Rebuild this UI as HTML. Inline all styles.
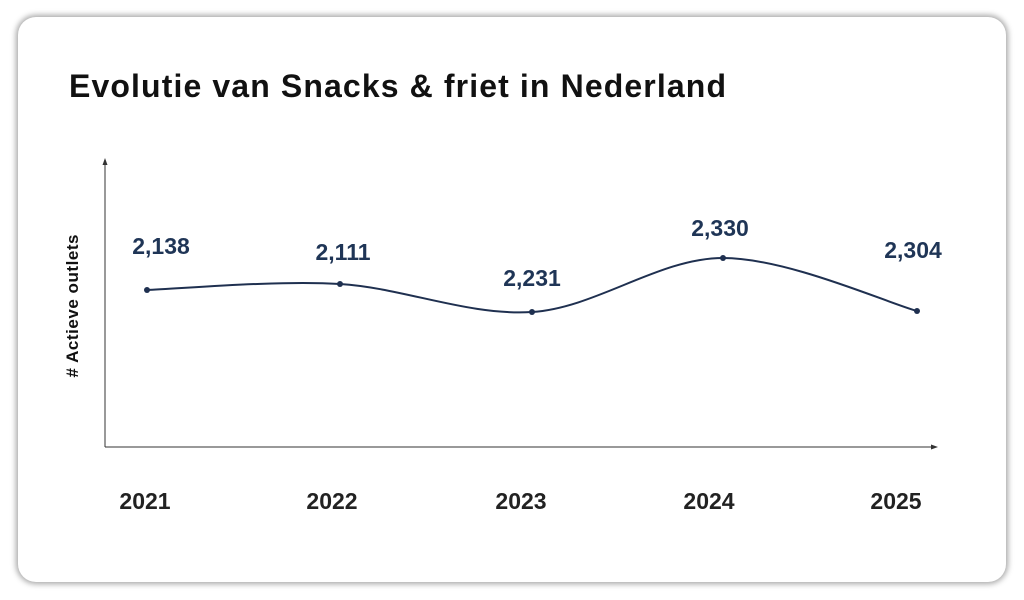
<!DOCTYPE html>
<html><head><style>
html,body{margin:0;padding:0;background:#fff;width:1024px;height:600px;overflow:hidden}
.card{position:absolute;left:18px;top:17px;width:988px;height:565px;background:#fff;border-radius:18px;box-shadow:0 0 6px 2px rgba(0,0,0,0.35)}
svg{position:absolute;left:0;top:0}
text{font-family:"Liberation Sans",sans-serif}
</style></head><body>
<div class="card"></div>
<svg width="1024" height="600" viewBox="0 0 1024 600">
<text x="69" y="97" font-size="32" font-weight="bold" fill="#111" textLength="657" lengthAdjust="spacing">Evolutie van Snacks &amp; friet in Nederland</text>
<line x1="105" y1="447" x2="105" y2="163" stroke="#333" stroke-width="1"/>
<polygon points="105,158 102.5,165 107.5,165" fill="#333"/>
<line x1="105" y1="447" x2="932" y2="447" stroke="#333" stroke-width="1"/>
<polygon points="938,447 931,444.5 931,449.5" fill="#333"/>
<text transform="translate(78,306) rotate(-90)" text-anchor="middle" font-size="17" font-weight="bold" fill="#111" textLength="143" lengthAdjust="spacing"># Actieve outlets</text>
<path d="M147,290 C179,289 276,280 340,284 C404,288 468,316 532,312 C596,308 659,258 723,258 C787,258 885,302 917,311" fill="none" stroke="#1f3050" stroke-width="2"/>
<g fill="#1f3050">
<circle cx="147" cy="290" r="3"/><circle cx="340" cy="284" r="3"/><circle cx="532" cy="312" r="3"/><circle cx="723" cy="258" r="3"/><circle cx="917" cy="311" r="3"/>
</g>
<g font-size="23" fill="#1f3556" text-anchor="middle" font-weight="bold" style="font-weight:600">
<text x="161" y="254">2,138</text>
<text x="343" y="260">2,111</text>
<text x="532" y="286">2,231</text>
<text x="720" y="236">2,330</text>
<text x="913" y="258">2,304</text>
</g>
<g font-size="23" font-weight="bold" fill="#222" text-anchor="middle">
<text x="145" y="509">2021</text>
<text x="332" y="509">2022</text>
<text x="521" y="509">2023</text>
<text x="709" y="509">2024</text>
<text x="896" y="509">2025</text>
</g>
</svg>
</body></html>
